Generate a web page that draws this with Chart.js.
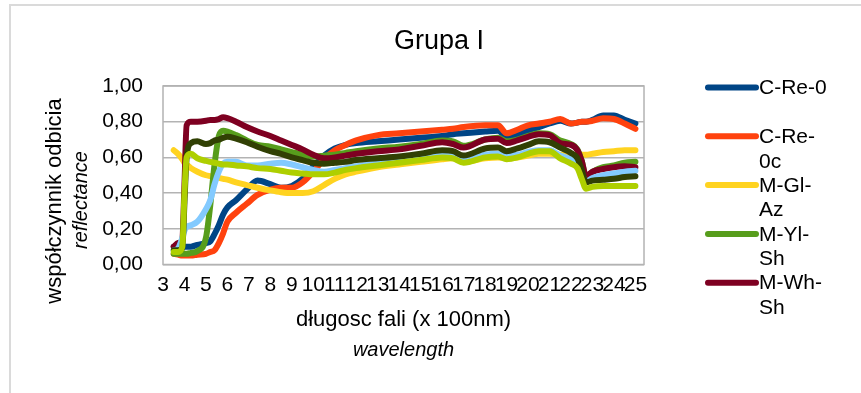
<!DOCTYPE html>
<html>
<head>
<meta charset="utf-8">
<script src="https://cdn.jsdelivr.net/npm/chart.js@4.4.1/dist/chart.umd.min.js"></script>
<style>
  html, body { margin: 0; padding: 0; background: #fff; }
  #wrap { position: relative; width: 861px; height: 393px; }
</style>
</head>
<body>
<div id="wrap"><canvas id="chart" width="861" height="393"></canvas></div>
<script>
// wavelength in units of 100 nm
const wavelength = [3.5, 3.7, 3.9, 4.0, 4.1, 4.3, 4.6, 5.0, 5.2, 5.4, 5.6, 5.8, 6.0, 6.4, 6.9, 7.4, 8.0, 8.5, 9.0, 9.5,
  10.0, 10.5, 11.0, 11.5, 12.0, 13.0, 14.0, 15.0, 16.0, 16.5, 17.0, 18.0, 18.6, 19.0, 19.5, 20.0, 20.5, 21.0, 21.5,
  22.0, 22.3, 22.5, 22.7, 23.0, 23.5, 24.0, 24.5, 25.0];

const cRe0 = [0.10, 0.10, 0.10, 0.10, 0.10, 0.10, 0.11, 0.12, 0.13, 0.17, 0.22, 0.28, 0.32, 0.36, 0.42, 0.47, 0.45, 0.43, 0.44, 0.48,
  0.55, 0.61, 0.65, 0.67, 0.68, 0.69, 0.70, 0.71, 0.72, 0.73, 0.735, 0.745, 0.75, 0.715, 0.725, 0.75, 0.77, 0.79, 0.805,
  0.79, 0.795, 0.80, 0.80, 0.81, 0.835, 0.835, 0.81, 0.79];
const cRe0c = [0.06, 0.055, 0.05, 0.05, 0.05, 0.05, 0.055, 0.06, 0.07, 0.08, 0.12, 0.175, 0.24, 0.29, 0.34, 0.39, 0.42, 0.43, 0.43, 0.46,
  0.52, 0.59, 0.64, 0.67, 0.695, 0.725, 0.735, 0.745, 0.755, 0.76, 0.77, 0.78, 0.78, 0.735, 0.755, 0.78, 0.79, 0.80, 0.815,
  0.79, 0.795, 0.80, 0.80, 0.805, 0.82, 0.815, 0.79, 0.76];
const mGlAz = [0.64, 0.62, 0.59, 0.57, 0.56, 0.54, 0.52, 0.50, 0.495, 0.49, 0.485, 0.48, 0.475, 0.46, 0.445, 0.43, 0.415, 0.405, 0.40, 0.40,
  0.41, 0.445, 0.48, 0.505, 0.52, 0.545, 0.56, 0.575, 0.59, 0.595, 0.575, 0.595, 0.60, 0.595, 0.60, 0.61, 0.62, 0.62, 0.615,
  0.61, 0.615, 0.615, 0.615, 0.62, 0.63, 0.635, 0.64, 0.64];
const mYlSh = [0.06, 0.06, 0.06, 0.06, 0.06, 0.065, 0.075, 0.15, 0.33, 0.56, 0.72, 0.75, 0.745, 0.725, 0.695, 0.67, 0.66, 0.645, 0.63, 0.615,
  0.605, 0.61, 0.615, 0.625, 0.635, 0.65, 0.66, 0.675, 0.695, 0.69, 0.665, 0.70, 0.71, 0.69, 0.70, 0.72, 0.735, 0.73, 0.695,
  0.675, 0.645, 0.58, 0.49, 0.52, 0.545, 0.555, 0.57, 0.575];
const mWhSh = [0.10, 0.12, 0.14, 0.45, 0.78, 0.80, 0.80, 0.805, 0.81, 0.81, 0.815, 0.825, 0.82, 0.80, 0.77, 0.745, 0.72, 0.695, 0.67, 0.645,
  0.615, 0.595, 0.60, 0.61, 0.62, 0.635, 0.645, 0.665, 0.685, 0.675, 0.655, 0.70, 0.705, 0.68, 0.695, 0.715, 0.73, 0.725, 0.68,
  0.67, 0.64, 0.58, 0.495, 0.52, 0.535, 0.545, 0.55, 0.545];
// three more series whose legend entries are cut off in the original
const series6 = [0.08, 0.09, 0.15, 0.19, 0.21, 0.22, 0.24, 0.31, 0.36, 0.45, 0.52, 0.565, 0.575, 0.575, 0.555, 0.555, 0.565, 0.57, 0.56, 0.545,
  0.53, 0.52, 0.53, 0.54, 0.55, 0.565, 0.58, 0.595, 0.61, 0.605, 0.585, 0.615, 0.62, 0.61, 0.615, 0.63, 0.64, 0.64, 0.61,
  0.59, 0.565, 0.51, 0.465, 0.485, 0.50, 0.51, 0.52, 0.525];
const series7 = [0.08, 0.08, 0.09, 0.35, 0.60, 0.68, 0.69, 0.675, 0.68, 0.695, 0.70, 0.71, 0.715, 0.705, 0.685, 0.66, 0.635, 0.62, 0.60, 0.585,
  0.57, 0.565, 0.57, 0.575, 0.585, 0.595, 0.605, 0.62, 0.64, 0.635, 0.61, 0.65, 0.655, 0.635, 0.65, 0.67, 0.69, 0.685, 0.655,
  0.625, 0.595, 0.53, 0.46, 0.47, 0.475, 0.48, 0.49, 0.495];
const series8 = [0.07, 0.07, 0.10, 0.40, 0.60, 0.62, 0.595, 0.58, 0.575, 0.57, 0.565, 0.56, 0.56, 0.555, 0.55, 0.54, 0.535, 0.525, 0.515, 0.51,
  0.505, 0.505, 0.515, 0.53, 0.54, 0.555, 0.57, 0.585, 0.60, 0.595, 0.57, 0.60, 0.605, 0.59, 0.60, 0.62, 0.635, 0.635, 0.595,
  0.565, 0.54, 0.48, 0.425, 0.435, 0.44, 0.44, 0.44, 0.44];

const seriesNames = ['C-Re-0', 'C-Re-0c', 'M-Gl-Az', 'M-Yl-Sh', 'M-Wh-Sh', 'seria 6', 'seria 7', 'seria 8'];
const seriesValues = [cRe0, cRe0c, mGlAz, mYlSh, mWhSh, series6, series7, series8];
const seriesColors = ['#004586', '#ff420e', '#ffd320', '#579d1c', '#7e0021', '#83caff', '#314004', '#aecf00'];
const legendCount = 5; // only the first five fit in the legend box

const xTickValues = [3, 4, 5, 6, 7, 8, 9, 10, 11, 12, 13, 14, 15, 16, 17, 18, 19, 20, 21, 22, 23, 24, 25];
const yTickValues = [0, 0.2, 0.4, 0.6, 0.8, 1.0];

const FONT = '"Liberation Sans", Arial, sans-serif';

const datasets = seriesValues.map((vals, i) => ({
  label: seriesNames[i],
  data: wavelength.map((x, j) => ({ x: x, y: vals[j] })),
  borderColor: seriesColors[i],
  backgroundColor: seriesColors[i],
  borderWidth: 6,
  pointRadius: 0,
  cubicInterpolationMode: 'monotone',
  borderCapStyle: 'round',
  borderJoinStyle: 'round',
  order: seriesValues.length - i // later series drawn on top
}));

const decor = {
  id: 'decor',
  beforeDraw(chart) {
    const ctx = chart.ctx;
    ctx.save();
    ctx.fillStyle = '#fff';
    ctx.fillRect(0, 0, chart.width, chart.height);
    // page frame
    ctx.strokeStyle = '#dadada';
    ctx.lineWidth = 2;
    ctx.beginPath();
    ctx.moveTo(10, chart.height);
    ctx.lineTo(10, 5);
    ctx.lineTo(chart.width, 5);
    ctx.stroke();
    ctx.restore();
  },
  beforeDatasetsDraw(chart) {
    const a = chart.chartArea;
    const ctx = chart.ctx;
    ctx.save();
    ctx.strokeStyle = '#b3b3b3';
    ctx.lineWidth = 1.5;
    ctx.strokeRect(a.left, a.top, a.right - a.left, a.bottom - a.top);
    ctx.restore();
  },
  afterDraw(chart) {
    const ctx = chart.ctx;
    const a = chart.chartArea;
    ctx.save();
    ctx.fillStyle = '#000';
    ctx.textAlign = 'center';
    ctx.textBaseline = 'middle';

    ctx.font = '27px ' + FONT;
    ctx.fillText('Grupa I', 439, 42);

    const cx = (a.left + a.right) / 2;
    ctx.font = '22px ' + FONT;
    ctx.fillText('długosc fali (x 100nm)', cx, 320);
    ctx.font = 'italic 20px ' + FONT;
    ctx.fillText('wavelength', cx, 350);

    ctx.save();
    ctx.translate(55, 201);
    ctx.rotate(-Math.PI / 2);
    ctx.font = '22px ' + FONT;
    ctx.fillText('współczynnik odbicia', 0, 0);
    ctx.restore();
    ctx.save();
    ctx.translate(81, 200);
    ctx.rotate(-Math.PI / 2);
    ctx.font = 'italic 20px ' + FONT;
    ctx.fillText('reflectance', 0, 0);
    ctx.restore();

    // legend
    ctx.font = '21px ' + FONT;
    ctx.textAlign = 'left';
    for (let i = 0; i < legendCount; i++) {
      const y = 87.5 + i * 48.8;
      ctx.strokeStyle = seriesColors[i];
      ctx.lineWidth = 6;
      ctx.lineCap = 'round';
      ctx.beginPath();
      ctx.moveTo(708, y);
      ctx.lineTo(756, y);
      ctx.stroke();
      const name = seriesNames[i];
      let lines = [name];
      if (ctx.measureText(name).width > 72) {
        const k = name.lastIndexOf('-') + 1;
        lines = [name.slice(0, k), name.slice(k)];
      }
      lines.forEach((t, j) => ctx.fillText(t, 759, y + 1 + j * 24.5));
    }
    ctx.restore();
  }
};

new Chart(document.getElementById('chart'), {
  type: 'line',
  data: { datasets: datasets },
  plugins: [decor],
  options: {
    responsive: false,
    animation: false,
    layout: { padding: { left: 0, right: 217, top: 86, bottom: 0 } },
    plugins: {
      legend: { display: false },
      title: { display: false },
      tooltip: { enabled: false }
    },
    scales: {
      x: {
        type: 'linear',
        min: 3,
        max: 25.4,
        afterBuildTicks: (s) => { s.ticks = xTickValues.map(v => ({ value: v })); },
        afterFit: (s) => { s.height = 128.5; },
        ticks: {
          autoSkip: false,
          maxRotation: 0,
          minRotation: 0,
          padding: 8,
          color: '#000',
          font: { family: FONT, size: 21 }
        },
        grid: { display: false, drawTicks: false },
        border: { display: false }
      },
      y: {
        min: 0,
        max: 1,
        afterBuildTicks: (s) => { s.ticks = yTickValues.map(v => ({ value: v })); },
        afterFit: (s) => { s.width = 163; },
        ticks: {
          padding: 20,
          color: '#000',
          font: { family: FONT, size: 21 },
          callback: (v) => v.toFixed(2).replace('.', ',')
        },
        grid: { color: '#b3b3b3', lineWidth: 1.5, drawTicks: false },
        border: { display: false }
      }
    }
  }
});
</script>
</body>
</html>
